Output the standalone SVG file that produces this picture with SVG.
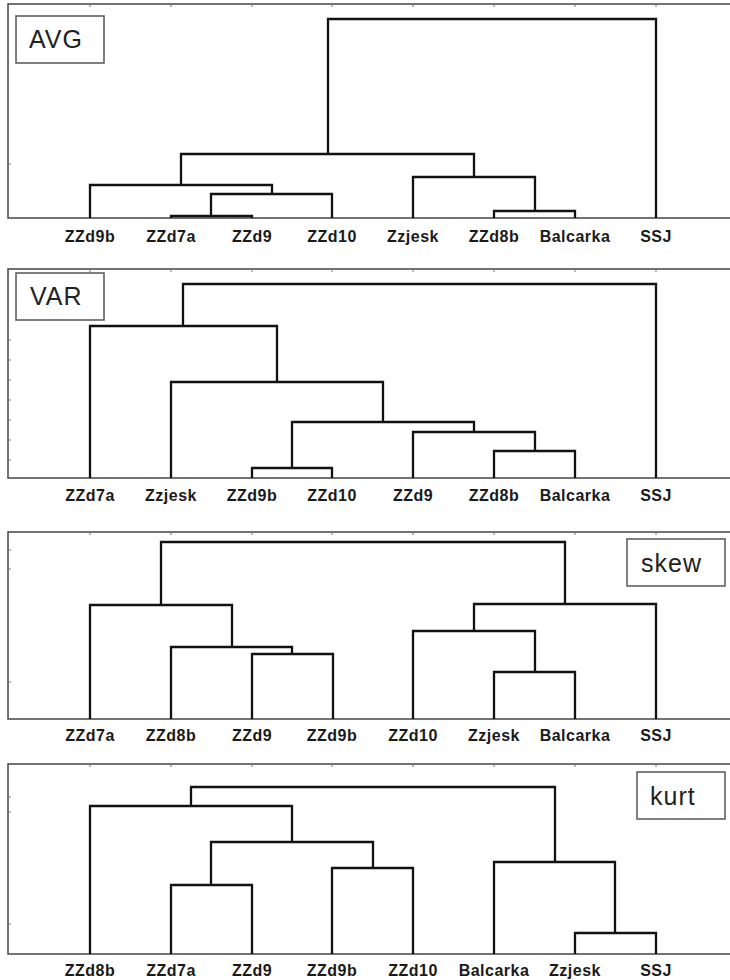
<svg xmlns="http://www.w3.org/2000/svg" width="730" height="980" viewBox="0 0 730 980">
<style>
.frame{fill:none;stroke:#444;stroke-width:1.5}
.tick{stroke:#777;stroke-width:1}
.link{fill:none;stroke:#111;stroke-width:2.3;stroke-linejoin:miter}
.box{fill:#fff;stroke:#555;stroke-width:1.5}
.title{font-family:"Liberation Sans",Arial,sans-serif;font-size:25px;letter-spacing:1px;fill:#222}
.leaf{font-family:"Liberation Sans",Arial,sans-serif;font-size:16px;font-weight:bold;letter-spacing:0.5px;fill:#1a1a1a;text-anchor:middle}
</style>
<rect width="730" height="980" fill="#fff"/>

<!-- Panel 1: AVG -->
<g id="panel-avg">
  <rect class="frame" x="8" y="4" width="740" height="214"/>
  <g class="tick"><path d="M90 4v3M171 4v3M252 4v3M332 4v3M413 4v3M494 4v3M575 4v3M656 4v3M8 164h3"/></g>
  <g id="avg-label"><rect class="box" x="16" y="16" width="88" height="47"/><text class="title" x="29" y="48">AVG</text></g>
  <g id="avg-connectors">
    <path class="link" d="M171 218V216H252V218"/>
    <path class="link" d="M211 216V194H332V218"/>
    <path class="link" d="M90 218V185H272V194"/>
    <path class="link" d="M494 218V211H575V218"/>
    <path class="link" d="M413 218V177H535V211"/>
    <path class="link" d="M181 185V154H474V177"/>
    <path class="link" d="M328 154V19H656V218"/>
  </g>
  <g id="avg-ZZd9b"><text class="leaf" x="90" y="242">ZZd9b</text></g>
  <g id="avg-ZZd7a"><text class="leaf" x="171" y="242">ZZd7a</text></g>
  <g id="avg-ZZd9"><text class="leaf" x="252" y="242">ZZd9</text></g>
  <g id="avg-ZZd10"><text class="leaf" x="332" y="242">ZZd10</text></g>
  <g id="avg-Zzjesk"><text class="leaf" x="413" y="242">Zzjesk</text></g>
  <g id="avg-ZZd8b"><text class="leaf" x="494" y="242">ZZd8b</text></g>
  <g id="avg-Balcarka"><text class="leaf" x="575" y="242">Balcarka</text></g>
  <g id="avg-SSJ"><text class="leaf" x="656" y="242">SSJ</text></g>
</g>

<!-- Panel 2: VAR -->
<g id="panel-var">
  <rect class="frame" x="8" y="269" width="740" height="209"/>
  <g class="tick"><path d="M90 269v3M171 269v3M252 269v3M332 269v3M413 269v3M494 269v3M575 269v3M656 269v3M8 340h3M8 360h3M8 380h3M8 400h3M8 420h3M8 440h3M8 460h3"/></g>
  <g id="var-label"><rect class="box" x="16" y="273" width="88" height="47"/><text class="title" x="30" y="305">VAR</text></g>
  <g id="var-connectors">
    <path class="link" d="M252 478V468H332V478"/>
    <path class="link" d="M494 478V451H575V478"/>
    <path class="link" d="M413 478V432H535V451"/>
    <path class="link" d="M292 468V422H474V432"/>
    <path class="link" d="M171 478V382H383V422"/>
    <path class="link" d="M90 478V326H277V382"/>
    <path class="link" d="M183 326V284H656V478"/>
  </g>
  <g id="var-ZZd7a"><text class="leaf" x="90" y="501">ZZd7a</text></g>
  <g id="var-Zzjesk"><text class="leaf" x="171" y="501">Zzjesk</text></g>
  <g id="var-ZZd9b"><text class="leaf" x="252" y="501">ZZd9b</text></g>
  <g id="var-ZZd10"><text class="leaf" x="332" y="501">ZZd10</text></g>
  <g id="var-ZZd9"><text class="leaf" x="413" y="501">ZZd9</text></g>
  <g id="var-ZZd8b"><text class="leaf" x="494" y="501">ZZd8b</text></g>
  <g id="var-Balcarka"><text class="leaf" x="575" y="501">Balcarka</text></g>
  <g id="var-SSJ"><text class="leaf" x="656" y="501">SSJ</text></g>
</g>

<!-- Panel 3: skew -->
<g id="panel-skew">
  <rect class="frame" x="8" y="532" width="740" height="187"/>
  <g class="tick"><path d="M90 532v3M171 532v3M252 532v3M332 532v3M413 532v3M494 532v3M575 532v3M656 532v3M8 550h3M8 569h3M8 682h3"/></g>
  <g id="skew-label"><rect class="box" x="627" y="539" width="98" height="47"/><text class="title" x="641" y="572">skew</text></g>
  <g id="skew-connectors">
    <path class="link" d="M252 719V654H333V719"/>
    <path class="link" d="M171 719V647H292V654"/>
    <path class="link" d="M90 719V605H232V647"/>
    <path class="link" d="M494 719V672H575V719"/>
    <path class="link" d="M413 719V631H535V672"/>
    <path class="link" d="M474 631V604H656V719"/>
    <path class="link" d="M161 605V542H565V604"/>
  </g>
  <g id="skew-ZZd7a"><text class="leaf" x="90" y="741">ZZd7a</text></g>
  <g id="skew-ZZd8b"><text class="leaf" x="171" y="741">ZZd8b</text></g>
  <g id="skew-ZZd9"><text class="leaf" x="252" y="741">ZZd9</text></g>
  <g id="skew-ZZd9b"><text class="leaf" x="332" y="741">ZZd9b</text></g>
  <g id="skew-ZZd10"><text class="leaf" x="413" y="741">ZZd10</text></g>
  <g id="skew-Zzjesk"><text class="leaf" x="494" y="741">Zzjesk</text></g>
  <g id="skew-Balcarka"><text class="leaf" x="575" y="741">Balcarka</text></g>
  <g id="skew-SSJ"><text class="leaf" x="656" y="741">SSJ</text></g>
</g>

<!-- Panel 4: kurt -->
<g id="panel-kurt">
  <rect class="frame" x="8" y="764" width="740" height="190"/>
  <g class="tick"><path d="M90 764v3M171 764v3M252 764v3M332 764v3M413 764v3M494 764v3M575 764v3M656 764v3M8 797h3M8 812h3M8 924h3"/></g>
  <g id="kurt-label"><rect class="box" x="637" y="772" width="88" height="47"/><text class="title" x="650" y="805">kurt</text></g>
  <g id="kurt-connectors">
    <path class="link" d="M171 954V885H252V954"/>
    <path class="link" d="M332 954V868H413V954"/>
    <path class="link" d="M211 885V842H373V868"/>
    <path class="link" d="M90 954V806H292V842"/>
    <path class="link" d="M575 954V933H656V954"/>
    <path class="link" d="M494 954V862H615V933"/>
    <path class="link" d="M191 806V787H555V862"/>
  </g>
  <g id="kurt-ZZd8b"><text class="leaf" x="90" y="976">ZZd8b</text></g>
  <g id="kurt-ZZd7a"><text class="leaf" x="171" y="976">ZZd7a</text></g>
  <g id="kurt-ZZd9"><text class="leaf" x="252" y="976">ZZd9</text></g>
  <g id="kurt-ZZd9b"><text class="leaf" x="332" y="976">ZZd9b</text></g>
  <g id="kurt-ZZd10"><text class="leaf" x="413" y="976">ZZd10</text></g>
  <g id="kurt-Balcarka"><text class="leaf" x="494" y="976">Balcarka</text></g>
  <g id="kurt-Zzjesk"><text class="leaf" x="575" y="976">Zzjesk</text></g>
  <g id="kurt-SSJ"><text class="leaf" x="656" y="976">SSJ</text></g>
</g>
</svg>
